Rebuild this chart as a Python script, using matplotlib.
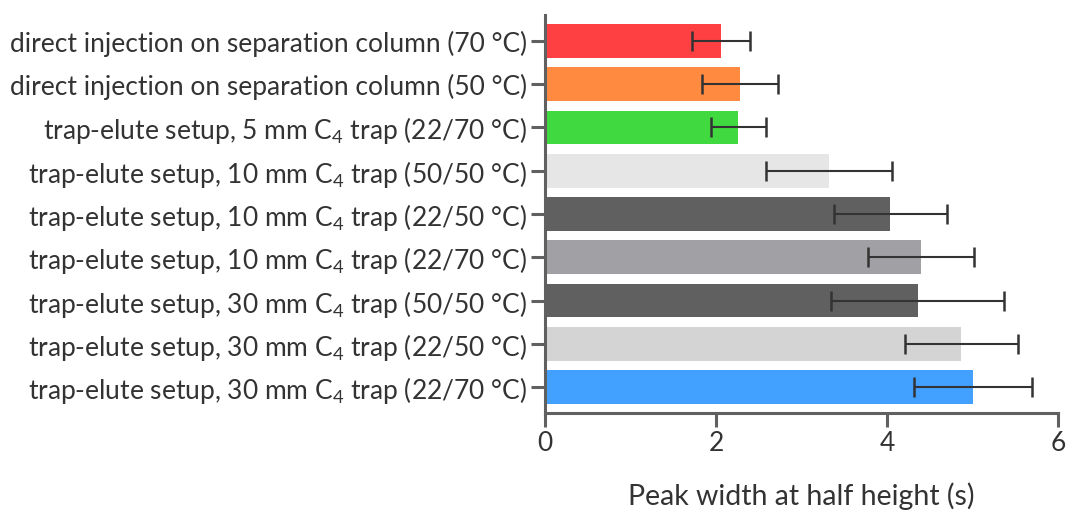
import matplotlib
matplotlib.use("Agg")
import matplotlib.pyplot as plt

plt.rcParams['font.family'] = ['Lato', 'DejaVu Sans']
plt.rcParams['mathtext.fontset'] = 'custom'
plt.rcParams['mathtext.rm'] = 'Lato'
plt.rcParams['mathtext.it'] = 'Lato'

C4 = r'C$_\mathregular{4}$'
labels = [
    "direct injection on separation column (70 °C)",
    "direct injection on separation column (50 °C)",
    f"trap-elute setup, 5 mm {C4} trap (22/70 °C)",
    f"trap-elute setup, 10 mm {C4} trap (50/50 °C)",
    f"trap-elute setup, 10 mm {C4} trap (22/50 °C)",
    f"trap-elute setup, 10 mm {C4} trap (22/70 °C)",
    f"trap-elute setup, 30 mm {C4} trap (50/50 °C)",
    f"trap-elute setup, 30 mm {C4} trap (22/50 °C)",
    f"trap-elute setup, 30 mm {C4} trap (22/70 °C)",
]
peak_width = [2.06, 2.28, 2.26, 3.32, 4.04, 4.40, 4.36, 4.87, 5.01]
peak_width_sd = [0.34, 0.44, 0.32, 0.74, 0.66, 0.62, 1.01, 0.66, 0.69]
colors = ["#ff4042", "#ff8a40", "#40da40", "#e6e6e6", "#606060",
          "#a1a0a5", "#606060", "#d4d4d4", "#42a0ff"]
x_ticks = [0, 2, 4, 6]

fig = plt.figure(figsize=(10.67, 5.12), dpi=100)
ax = fig.add_axes([0.5108, 0.1934, 0.4808, 0.7773])

y = list(range(len(labels)))
ax.barh(y, peak_width, height=0.78, color=colors, zorder=2)
ax.errorbar(peak_width, y, xerr=peak_width_sd, fmt='none', ecolor='#333333',
            elinewidth=1.5, capsize=7.5, capthick=1.8, zorder=3)

ax.set_ylim(len(labels) - 0.4, -0.6)
ax.set_xlim(0, 6)
ax.set_yticks(y)
ax.set_yticklabels(labels, fontsize=19, color='#333333')
ax.set_xticks(x_ticks)
ax.set_xticklabels([str(t) for t in x_ticks], fontsize=19, color='#333333')
ax.set_xlabel("Peak width at half height (s)", fontsize=20.5, color='#333333',
              labelpad=19)

for side in ('top', 'right'):
    ax.spines[side].set_visible(False)
for side in ('left', 'bottom'):
    ax.spines[side].set_color('#606060')
    ax.spines[side].set_linewidth(2.2)
ax.tick_params(axis='both', color='#606060', width=2.2, length=10, pad=3)

fig.savefig("out.png", dpi=100)
